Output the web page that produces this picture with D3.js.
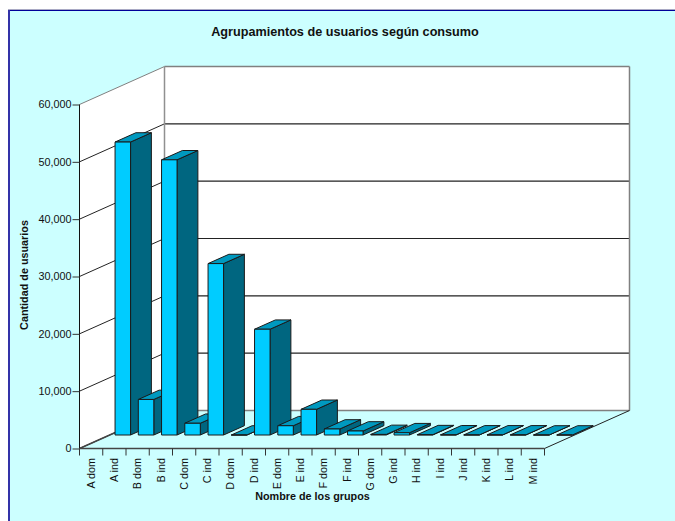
<!DOCTYPE html>
<html><head><meta charset="utf-8">
<script src="https://cdn.jsdelivr.net/npm/d3@7/dist/d3.min.js"></script>
<style>html,body{margin:0;padding:0;background:#fff}svg{display:block}text{font-family:"Liberation Sans",Arial,sans-serif;fill:#111}</style>
</head><body><svg id="c" width="675" height="521"></svg>
<script>
const categories=["A dom","A ind","B dom","B ind","C dom","C ind","D dom","D ind","E dom","E ind","F dom","F ind","G dom","G ind","H ind","I ind","J ind","K ind","L ind","M ind"];
const values=[51100,6200,48000,2050,29900,0,18450,1620,4480,1050,700,100,400,60,30,20,20,20,0,0];
const yTicks=[0,10000,20000,30000,40000,50000,60000];
const title="Agrupamientos de usuarios según consumo";
const xTitle="Nombre de los grupos";
const yTitle="Cantidad de usuarios";

const svg=d3.select("#c");
const x=d3.scaleBand().domain(categories).range([79.5,544.5]).paddingInner(0).paddingOuter(0);
const y=d3.scaleLinear().domain([0,60000]).range([448.5,104.5]);
const depth=d3.scaleLinear().domain([0,1]).range([0,85]);
const rise=d3.scaleLinear().domain([0,1]).range([0,-38]);
const pt=(px,py,z)=>[px+depth(z),py+rise(z)];
const poly=(pts,fill,stroke,sw)=>svg.append("polygon").attr("points",pts.map(p=>p.join(",")).join(" ")).attr("fill",fill).attr("stroke",stroke||"none").attr("stroke-width",sw||1).attr("stroke-linejoin","miter");
const line=(a,b,c,w)=>svg.append("line").attr("x1",a[0]).attr("y1",a[1]).attr("x2",b[0]).attr("y2",b[1]).attr("stroke",c).attr("stroke-width",w||1);

// background and frame
svg.append("rect").attr("x",8).attr("y",10).attr("width",667).attr("height",511).attr("fill","#ccffff");
svg.append("line").attr("x1",8).attr("x2",675).attr("y1",9.5).attr("y2",9.5).attr("stroke","#a9a9c4");
svg.append("line").attr("x1",8).attr("x2",675).attr("y1",10.5).attr("y2",10.5).attr("stroke","#000099");
svg.append("line").attr("x1",9).attr("x2",9).attr("y1",10).attr("y2",521).attr("stroke","#3333a8").attr("stroke-width",2);

const x0=x.range()[0],x1=x.range()[1],y0=y(0),yT=y(60000);
// walls and floor
poly([pt(x0,y0,0),pt(x0,yT,0),pt(x0,yT,1),pt(x0,y0,1)],"#fff");
poly([pt(x0,y0,1),pt(x0,yT,1),pt(x1,yT,1),pt(x1,y0,1)],"#fff");
// gridlines
yTicks.forEach(t=>{
  const top=t===60000,bot=t===0;
  line(pt(x0,y(t),0),pt(x0,y(t),1),top?"#808080":"#222",1);
  line(pt(x0,y(t),1),pt(x1,y(t),1),(top||bot)?"#808080":"#222",top||bot?1.5:1.2);
});
line(pt(x0,yT,1),pt(x0,y0,1),"#909090",1.5);
line(pt(x1,yT,1),pt(x1,y0,1),"#808080",1.5);
line(pt(x1,y0,0),pt(x1,y0,1),"#222",1);
line(pt(x0,y0,0),pt(x0,y0,1),"#444",1.5);

// bars
const barW=15.5, zF=0.355, zB=0.6, shift=1.5;
categories.forEach((c,i)=>{
  const v=values[i], bl=x(c)+(x.bandwidth()-barW)/2+shift, br=bl+barW;
  const b=y(0), t=y(v);
  const P=(px,py,z)=>pt(px,py,z);
  poly([P(br,b,zF),P(br,t,zF),P(br,t,zB),P(br,b,zB)],"#006680","#1a1a1a",1);
  poly([P(bl,t,zF),P(br,t,zF),P(br,t,zB),P(bl,t,zB)],"#0099bf","#1a1a1a",1);
  poly([P(bl,b,zF),P(br,b,zF),P(br,t,zF),P(bl,t,zF)],"#00ccff","#1a1a1a",1);
});

// axes
const gy=svg.append("g").attr("transform",`translate(${x0},0)`).call(d3.axisLeft(y).tickValues(yTicks).tickFormat(d3.format(",")).tickSize(7).tickPadding(1));
const gx=svg.append("g").attr("transform",`translate(0,${y0})`).call(d3.axisBottom(x).tickSize(0).tickFormat(""));
gy.select(".domain").attr("d",`M0,${yT}V${y0}`).attr("stroke","#111");
gy.selectAll("line").attr("stroke","#333");
gy.selectAll("text").attr("font-size",10.8).attr("fill","#222");
gx.select(".domain").attr("d",`M${x0},0H${x1}`).attr("stroke","#444").attr("stroke-width",1.5);
gx.selectAll("line").remove();
gx.selectAll("text").remove();
const step=x.step();
d3.range(categories.length+1).forEach(i=>line([x0+i*step,y0],[x0+i*step,y0+7],"#333",1));
categories.forEach(c=>{
  const cx=x(c)+x.bandwidth()/2+3.8;
  svg.append("text").attr("transform",`translate(${cx},458) rotate(-90)`).attr("text-anchor","end").attr("font-size",10.8).attr("fill","#222").text(c);
});

svg.append("text").attr("x",345).attr("y",36).attr("text-anchor","middle").attr("font-size",12.65).attr("font-weight","bold").text(title);
svg.append("text").attr("x",312.5).attr("y",500).attr("text-anchor","middle").attr("font-size",10.8).attr("font-weight","bold").text(xTitle);
svg.append("text").attr("transform","translate(28,275) rotate(-90)").attr("text-anchor","middle").attr("font-size",10.8).attr("font-weight","bold").text(yTitle);
</script></body></html>
